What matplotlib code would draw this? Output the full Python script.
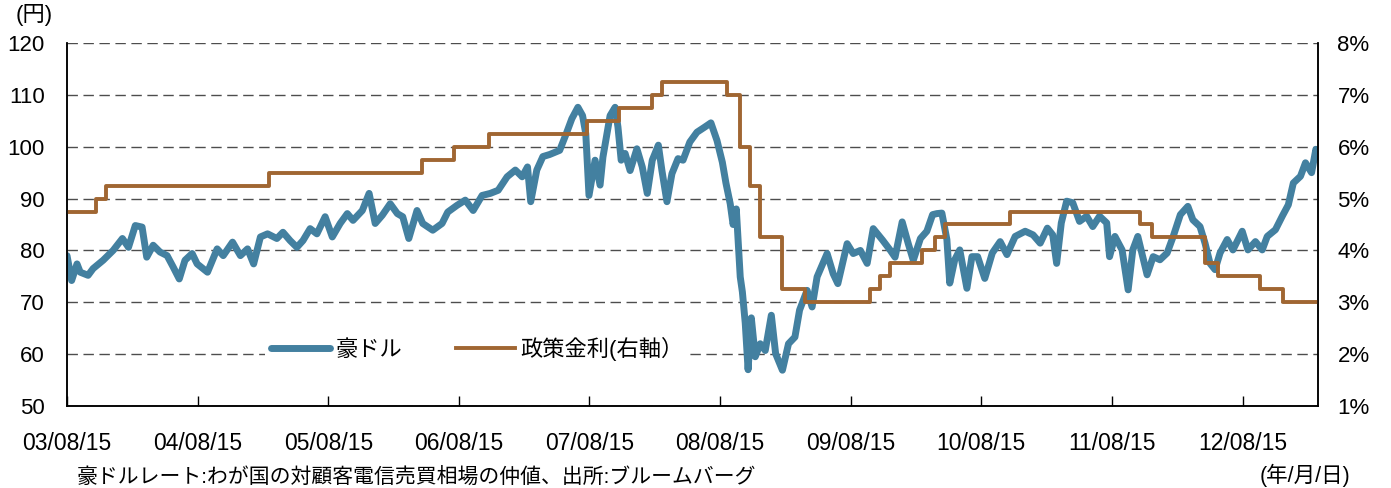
import matplotlib
matplotlib.use('Agg')
import matplotlib.pyplot as plt
import matplotlib.dates as mdates
import pandas as pd

plt.rcParams['font.family'] = ['Liberation Sans', 'Noto Sans CJK JP']

# AUD/JPY (yen)
aud_dates = [
    '2003-08-15', '2003-08-28', '2003-09-12', '2003-09-21', '2003-10-13', '2003-10-27',
    '2003-11-24', '2003-12-22', '2004-01-17', '2004-02-03', '2004-02-22', '2004-03-12',
    '2004-03-25', '2004-04-12', '2004-05-01', '2004-05-21', '2004-06-07', '2004-06-24',
    '2004-07-10', '2004-07-30', '2004-08-13', '2004-09-11', '2004-10-08', '2004-10-25',
    '2004-11-20', '2004-12-12', '2005-01-01', '2005-01-18', '2005-02-06', '2005-02-26',
    '2005-03-24', '2005-04-10', '2005-04-30', '2005-05-19', '2005-06-05', '2005-06-25',
    '2005-07-14', '2005-08-06', '2005-08-26', '2005-09-17', '2005-10-07', '2005-10-23',
    '2005-11-18', '2005-12-07', '2005-12-24', '2006-01-13', '2006-02-04', '2006-02-24',
    '2006-03-11', '2006-03-28', '2006-04-20', '2006-05-06', '2006-06-03', '2006-06-29',
    '2006-07-15', '2006-08-10', '2006-09-02', '2006-09-24', '2006-10-19', '2006-11-11',
    '2006-12-03', '2006-12-28', '2007-01-20', '2007-02-08', '2007-02-23', '2007-03-04',
    '2007-03-21', '2007-04-07', '2007-04-26', '2007-05-24', '2007-06-13', '2007-06-27',
    '2007-07-14', '2007-07-27', '2007-08-05', '2007-08-14', '2007-08-31', '2007-09-14',
    '2007-09-22', '2007-10-12', '2007-10-26', '2007-11-03', '2007-11-12', '2007-11-23',
    '2007-12-07', '2007-12-26', '2008-01-10', '2008-01-24', '2008-02-07', '2008-02-24',
    '2008-03-05', '2008-03-19', '2008-04-02', '2008-04-19', '2008-05-03', '2008-05-22',
    '2008-06-11', '2008-07-03', '2008-07-20', '2008-08-06', '2008-08-21', '2008-08-31',
    '2008-09-12', '2008-09-20', '2008-09-29', '2008-10-10', '2008-10-16', '2008-10-24',
    '2008-11-01', '2008-11-10', '2008-11-21', '2008-12-05', '2008-12-19', '2009-01-05',
    '2009-01-17', '2009-02-05', '2009-02-22', '2009-03-12', '2009-03-25', '2009-04-15',
    '2009-04-29', '2009-05-13', '2009-06-10', '2009-06-27', '2009-07-10', '2009-08-05',
    '2009-08-22', '2009-09-11', '2009-09-30', '2009-10-17', '2009-11-12', '2009-12-04',
    '2009-12-17', '2010-01-06', '2010-01-23', '2010-02-06', '2010-02-26', '2010-03-16',
    '2010-04-01', '2010-04-13', '2010-04-27', '2010-05-11', '2010-05-19', '2010-06-02',
    '2010-06-16', '2010-07-06', '2010-07-20', '2010-08-05', '2010-08-25', '2010-09-15',
    '2010-10-07', '2010-10-26', '2010-11-18', '2010-12-16', '2011-01-07', '2011-01-27',
    '2011-02-16', '2011-03-03', '2011-03-14', '2011-03-27', '2011-04-11', '2011-04-28',
    '2011-05-17', '2011-06-06', '2011-06-23', '2011-07-12', '2011-08-01', '2011-08-09',
    '2011-08-24', '2011-09-13', '2011-09-30', '2011-10-13', '2011-10-27', '2011-11-22',
    '2011-12-09', '2011-12-28', '2012-01-17', '2012-02-03', '2012-02-23', '2012-03-15',
    '2012-03-29', '2012-04-18', '2012-05-02', '2012-05-16', '2012-05-30', '2012-06-13',
    '2012-07-03', '2012-07-19', '2012-08-14', '2012-08-30', '2012-09-20', '2012-10-09',
    '2012-10-23', '2012-11-15', '2012-12-04', '2012-12-21', '2013-01-04', '2013-01-24',
    '2013-02-07', '2013-02-24', '2013-03-08', '2013-03-14',
]
aud_yen = [
    79.0, 74.2, 77.4, 75.8, 75.2, 76.5,
    78.1, 80.0, 82.3, 80.6, 84.8, 84.5,
    78.7, 81.0, 79.7, 79.0, 76.8, 74.5,
    78.1, 79.4, 77.4, 75.8, 80.3, 79.0,
    81.6, 79.0, 80.3, 77.4, 82.6, 83.2,
    82.3, 83.5, 81.9, 80.6, 81.9, 84.2,
    83.2, 86.5, 82.6, 85.2, 87.1, 85.8,
    87.7, 91.0, 85.2, 86.8, 89.0, 87.1,
    86.5, 82.3, 87.7, 85.2, 83.9, 85.2,
    87.4, 88.7, 89.7, 87.7, 90.6, 91.0,
    91.6, 94.2, 95.5, 94.2, 96.1, 89.4,
    95.5, 98.1, 98.5, 99.3, 102.8, 105.4,
    107.6, 106.0, 102.5, 90.6, 97.4, 92.6,
    98.0, 106.0, 107.6, 103.8, 97.4, 98.7,
    95.4, 99.6, 96.1, 91.0, 97.4, 100.3,
    95.4, 89.4, 94.8, 97.7, 97.4, 100.9,
    102.8, 103.8, 104.6, 101.2, 97.0, 93.0,
    89.0, 85.0, 88.0, 74.9, 72.0, 66.0,
    57.0, 67.0, 59.5, 62.0, 60.7, 67.5,
    60.1, 56.9, 62.0, 63.3, 68.5, 72.3,
    69.1, 74.9, 79.4, 75.5, 73.6, 81.3,
    79.4, 80.0, 77.5, 84.2, 82.0, 80.0,
    78.7, 85.5, 81.3, 78.1, 82.3, 83.7,
    86.9, 87.1, 87.2, 82.1, 73.7, 78.2,
    80.1, 72.7, 78.8, 78.8, 74.6, 79.5,
    81.7, 79.2, 82.7, 83.7, 83.0, 81.4,
    84.3, 83.0, 77.5, 85.3, 89.5, 89.2,
    85.6, 86.6, 84.6, 86.6, 85.3, 78.8,
    82.7, 80.1, 72.4, 80.1, 82.7, 75.3,
    78.8, 78.2, 79.5, 82.7, 86.9, 88.5,
    85.9, 84.6, 81.4, 77.5, 76.3, 79.5,
    82.1, 80.1, 83.7, 80.1, 81.7, 80.1,
    82.7, 84.0, 86.6, 88.8, 93.0, 94.3,
    96.9, 95.0, 99.5, 98.0,
]

# RBA cash rate (%), each value holds from its date on
rate_dates = [
    '2003-08-15', '2003-11-05', '2003-12-03', '2005-03-02', '2006-05-03', '2006-08-02',
    '2006-11-08', '2007-08-08', '2007-11-07', '2008-02-06', '2008-03-05', '2008-09-03',
    '2008-10-08', '2008-11-05', '2008-12-03', '2009-02-04', '2009-04-08', '2009-10-07',
    '2009-11-04', '2009-12-02', '2010-03-03', '2010-04-07', '2010-05-05', '2010-11-03',
    '2011-11-02', '2011-12-07', '2012-05-02', '2012-06-06', '2012-10-03', '2012-12-05',
    '2013-03-14',
]
rate_pct = [
    4.75, 5.00, 5.25, 5.50, 5.75, 6.00,
    6.25, 6.50, 6.75, 7.00, 7.25, 7.00,
    6.00, 5.25, 4.25, 3.25, 3.00, 3.25,
    3.50, 3.75, 4.00, 4.25, 4.50, 4.75,
    4.50, 4.25, 3.75, 3.50, 3.25, 3.00,
    3.00,
]

tick_dates = ['2003-08-15', '2004-08-15', '2005-08-15', '2006-08-15', '2007-08-15',
              '2008-08-15', '2009-08-15', '2010-08-15', '2011-08-15', '2012-08-15']
x_range = ['2003-08-15', '2013-03-14']

BLUE = '#4380a0'
BROWN = '#a06632'

fig = plt.figure(figsize=(13.91, 4.88), dpi=100)
ax = fig.add_axes([67 / 1391, 82 / 488, 1251 / 1391, 363 / 488])
ax2 = ax.twinx()

h1, = ax.plot(pd.to_datetime(aud_dates), aud_yen, color=BLUE, lw=5,
              solid_capstyle='round', solid_joinstyle='round')
h2, = ax2.step(pd.to_datetime(rate_dates), rate_pct, where='post', color=BROWN, lw=2.8)

ax.set_xlim(pd.to_datetime(x_range))
ax.set_ylim(50, 120)
ax.set_yticks(range(50, 121, 10))
ax2.set_ylim(1, 8)
ax2.set_yticks(range(1, 9))
ax2.set_yticklabels([f'{v}%' for v in range(1, 9)])

ax.set_xticks(pd.to_datetime(tick_dates))
ax.xaxis.set_major_formatter(mdates.DateFormatter('%y/%m/%d'))

ax.grid(axis='y', linestyle=(0, (7.5, 4)), color='#4d4d4d', lw=1.0)
ax.grid(axis='x', visible=False)

for a in (ax, ax2):
    a.spines['top'].set_visible(False)
    for s in ('left', 'right', 'bottom'):
        a.spines[s].set_linewidth(1.1)
        a.spines[s].set_color('black')

ax.tick_params(axis='y', length=0, pad=16, labelsize=16)
ax2.tick_params(axis='y', length=0, pad=14, labelsize=16)
ax.tick_params(axis='x', direction='in', length=7, width=1, pad=19, labelsize=16.5)

leg = ax2.legend([h1, h2], ['豪ドル', '政策金利(右軸）'], loc='center left',
                 bbox_to_anchor=(0.158, 0.157), ncol=2, fontsize=16, frameon=True,
                 fancybox=False, framealpha=1, handlelength=2.65, handletextpad=0.25,
                 columnspacing=2.4, borderpad=0.3, borderaxespad=0)
leg.get_frame().set_edgecolor('none')
leg.get_frame().set_facecolor('white')

fig.text(34 / 1391, 1 - 15 / 488, '(円)', ha='center', va='center', fontsize=16)
fig.text(1305 / 1391, 1 - 475 / 488, '(年/月/日)', ha='center', va='center', fontsize=15.5)
fig.text(77 / 1391, 1 / 488, '豪ドルレート:わが国の対顧客電信売買相場の仲値、出所:ブルームバーグ',
         ha='left', va='bottom', fontsize=15)

fig.savefig('out.png', dpi=100)
